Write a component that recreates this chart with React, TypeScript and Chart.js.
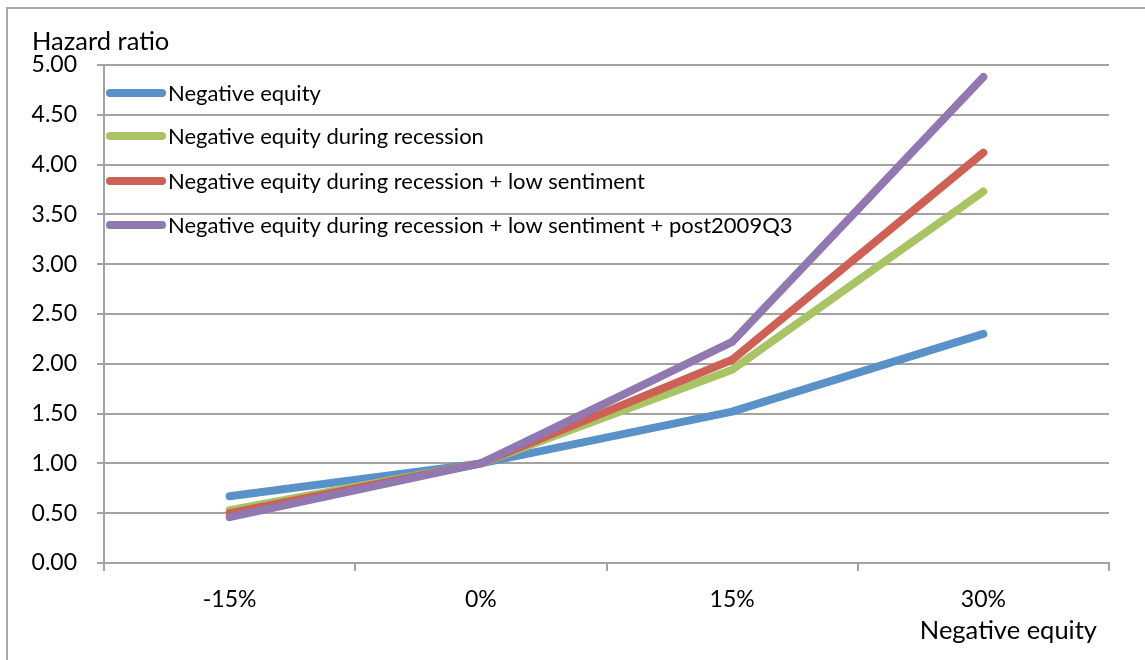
import React, { useEffect, useRef } from "react";
import { Chart, registerables } from "chart.js";

Chart.register(...registerables);

const categories = ["-15%", "0%", "15%", "30%"];
const negativeEquity = [0.67, 1.0, 1.52, 2.3];
const duringRecession = [0.53, 1.0, 1.94, 3.73];
const recessionLowSentiment = [0.5, 1.0, 2.04, 4.12];
const recessionLowSentimentPost2009Q3 = [0.46, 1.0, 2.22, 4.88];

const seriesLabels = [
  "Negative equity",
  "Negative equity during recession",
  "Negative equity during recession + low sentiment",
  "Negative equity during recession + low sentiment + post2009Q3",
];
const seriesColors = ["#5a91c9", "#a9c465", "#cd6155", "#9178b1"];

const yTitle = "Hazard ratio";
const xTitle = "Negative equity";

const FONT = "Lato, 'Open Sans', sans-serif";
const GRID = "#a3a3a3";

// Legend inside the plot area and the two axis titles
const overlayPlugin = {
  id: "overlay",
  afterDraw(chart: any) {
    const ctx = chart.ctx;
    ctx.save();
    ctx.font = `25.5px ${FONT}`;
    ctx.fillStyle = "#000";
    ctx.textBaseline = "middle";
    ctx.textAlign = "left";
    ctx.fillText(yTitle, 32, 42);
    ctx.textAlign = "right";
    ctx.fillText(xTitle, 1097, 631);

    ctx.font = `22px ${FONT}`;
    const rows = [93, 136, 181, 225];
    chart.data.datasets.forEach((ds: any, i: number) => {
      const y = rows[i];
      ctx.strokeStyle = ds.borderColor;
      ctx.lineWidth = 8;
      ctx.lineCap = "round";
      ctx.beginPath();
      ctx.moveTo(110, y);
      ctx.lineTo(162, y);
      ctx.stroke();
      ctx.textAlign = "left";
      ctx.fillStyle = "#000";
      ctx.fillText(ds.label, 168, y + 1);
    });
    ctx.restore();
  },
};

export default function App() {
  const canvasRef = useRef<HTMLCanvasElement | null>(null);

  useEffect(() => {
    if (!canvasRef.current) return;
    const values = [
      negativeEquity,
      duringRecession,
      recessionLowSentiment,
      recessionLowSentimentPost2009Q3,
    ];
    const chart = new Chart(canvasRef.current, {
      type: "line",
      data: {
        labels: categories,
        datasets: values.map((data, i) => ({
          label: seriesLabels[i],
          data,
          borderColor: seriesColors[i],
          backgroundColor: seriesColors[i],
          borderWidth: 8,
          borderCapStyle: "round" as const,
          borderJoinStyle: "round" as const,
          pointRadius: 0,
          tension: 0,
          order: 4 - i,
        })),
      },
      options: {
        animation: false,
        responsive: false,
        maintainAspectRatio: false,
        layout: { padding: { left: 0, top: 65, right: 36, bottom: 0 } },
        plugins: {
          legend: { display: false },
          tooltip: { enabled: false },
        },
        scales: {
          x: {
            offset: true,
            afterFit(scale: any) {
              scale.height = 97;
            },
            grid: {
              offset: true,
              drawOnChartArea: false,
              drawTicks: true,
              tickLength: 8,
              color: GRID,
              lineWidth: 2,
            },
            border: { color: GRID, width: 2 },
            ticks: {
              color: "#000",
              padding: 15,
              font: { family: FONT, size: 23 },
            },
          },
          y: {
            min: 0,
            max: 5,
            afterFit(scale: any) {
              scale.width = 104;
            },
            grid: {
              color: GRID,
              lineWidth: 2,
              tickLength: 7,
            },
            border: { color: GRID, width: 2 },
            ticks: {
              stepSize: 0.5,
              color: "#000",
              padding: 20,
              font: { family: FONT, size: 23 },
              callback: (v: any) => Number(v).toFixed(2),
            },
          },
        },
      },
      plugins: [overlayPlugin],
    });
    return () => chart.destroy();
  }, []);

  return (
    <div
      style={{
        position: "fixed",
        left: 0,
        top: 0,
        width: 1145,
        height: 660,
        overflow: "hidden",
        background: "#fff",
      }}
    >
      <div
        style={{
          position: "absolute",
          left: 6,
          top: 7,
          width: 1200,
          height: 700,
          border: "2px solid #a8a8a8",
          boxSizing: "border-box",
        }}
      />
      <canvas
        ref={canvasRef}
        width={1145}
        height={660}
        style={{ position: "absolute", left: 0, top: 0, width: 1145, height: 660 }}
      />
    </div>
  );
}
